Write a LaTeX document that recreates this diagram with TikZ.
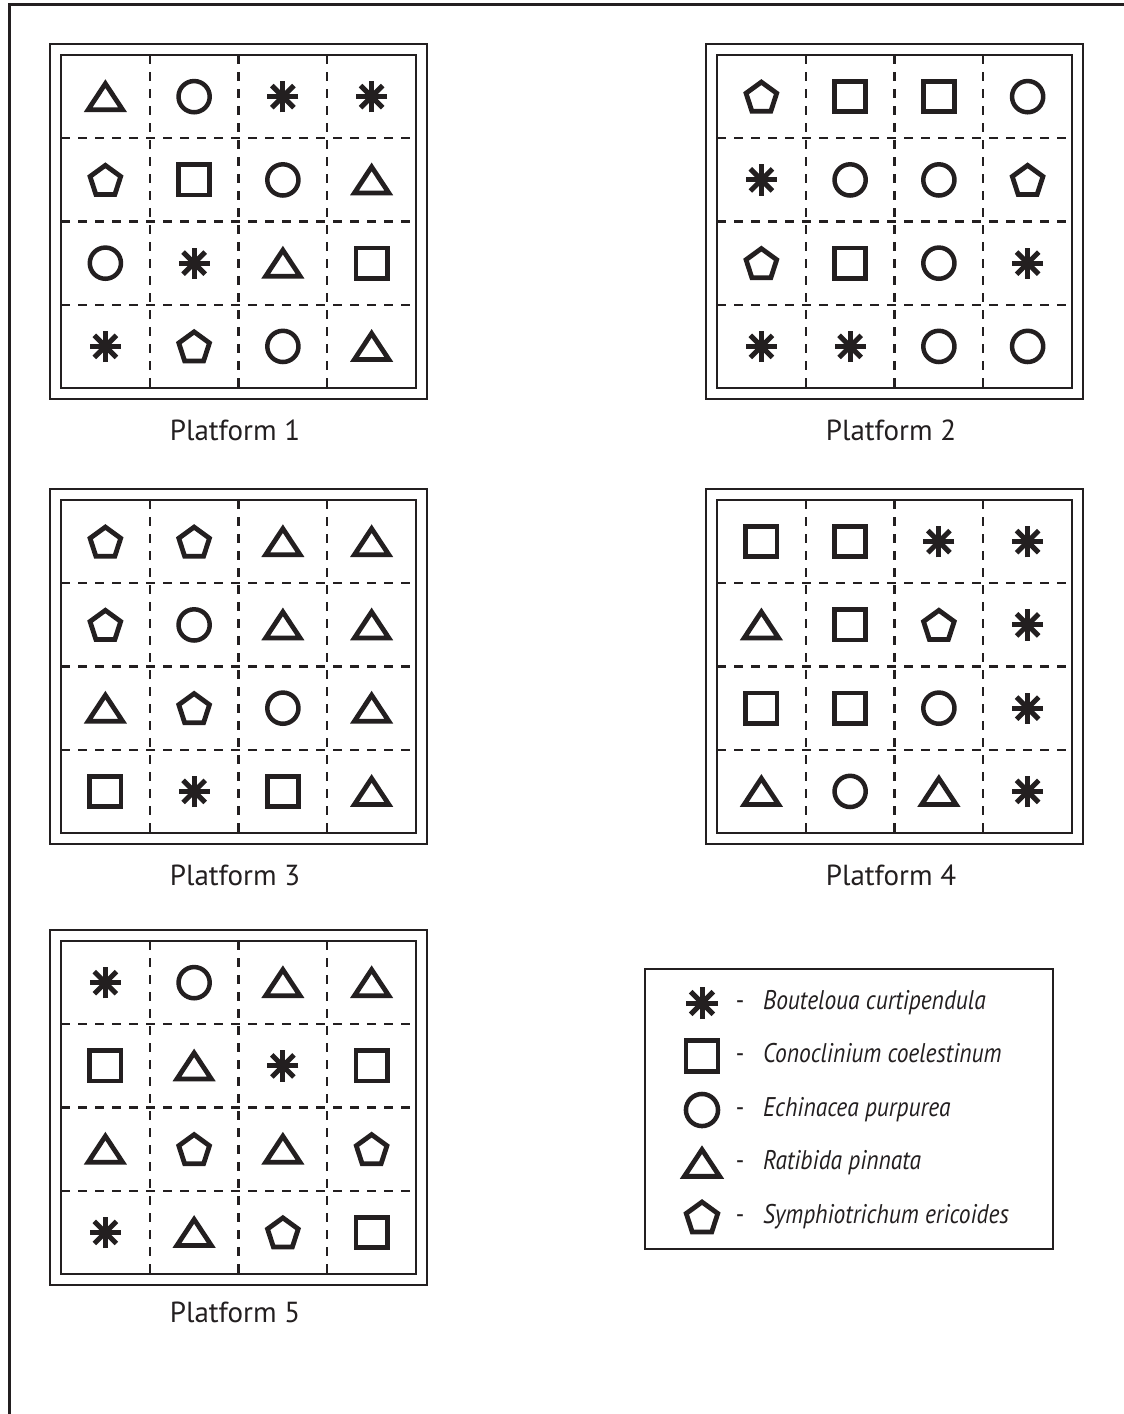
\documentclass[tikz,border=0pt]{standalone}
\usepackage{fontspec}
\setmainfont{PT Sans}
\newfontfamily\legfont{PT Sans}[FakeStretch=0.87]
\definecolor{ink}{HTML}{231F20}
\tikzset{
  frame/.style={draw=ink, line width=2.8pt},
  gridline/.style={draw=ink, line width=2.1pt, dash pattern=on 9pt off 8pt},
  sym/.style={draw=ink, line width=4.8pt, line join=miter},
  platlabel/.style={text=ink, font=\fontsize{29}{31}\selectfont, inner sep=0pt},
  legtext/.style={text=ink, font=\legfont\fontsize{27}{30}\selectfont\itshape, inner sep=0pt, anchor=base west},
  pics/ast/.style={code={
    \foreach \a in {0,45,90,135}{\draw[sym, line width=5pt] (\a:15) -- (\a+180:15);}
  }},
  pics/sq/.style={code={\draw[sym] (-15,-14.5) rectangle (15,14.5);}},
  pics/circ/.style={code={\draw[sym, line width=4.5pt] (0,0) circle[radius=15];}},
  pics/tri/.style={code={\draw[sym] (0,-12.5) -- (16.5,12.5) -- (-16.5,12.5) -- cycle;}},
  pics/pent/.style={code={\draw[sym] (0,1.5) ++(-90:15.5) -- ++(36:18.22) -- ++(108:18.22) -- ++(180:18.22) -- ++(252:18.22) -- cycle;}},
}
\newcommand\drawplatform[5]{%
  \draw[frame] (#1-11,#2-11) rectangle (#1+366,#2+344);
  \draw[frame] (#1,#2) rectangle (#1+355,#2+333);
  \foreach \k in {1,2,3}{
    \draw[gridline] (#1+88.75*\k,#2) -- (#1+88.75*\k,#2+333);
    \draw[gridline] (#1,#2+83.25*\k) -- (#1+355,#2+83.25*\k);
  }
  \foreach \row [count=\r] in {#4}{
    \foreach \s [count=\c] in \row{
      \pic[scale=1.04] at (#1+88.75*\c-44.375, #2+83.25*\r-41.6) {\s};
    }
  }
  \node[platlabel] (plat#3) at (#1+174,#2+#5) {Platform #3};
}
\begin{document}
\begin{tikzpicture}[x=1pt,y=-1pt]
\useasboundingbox (0,0) rectangle (1124,1414);
\fill[white] (0,0) rectangle (1124,1414);
% page frame
\draw[draw=ink, line width=2.6pt] (9.5,1416) -- (9.5,4.5) -- (1126,4.5);

\drawplatform{61}{55}{1}{{tri,circ,ast,ast},{pent,sq,circ,tri},{circ,ast,tri,sq},{ast,pent,circ,tri}}{375}
\drawplatform{717}{55}{2}{{pent,sq,sq,circ},{ast,circ,circ,pent},{pent,sq,circ,ast},{ast,ast,circ,circ}}{375}
\drawplatform{61}{500}{3}{{pent,pent,tri,tri},{pent,circ,tri,tri},{tri,pent,circ,tri},{sq,ast,sq,tri}}{375}
\drawplatform{717}{500}{4}{{sq,sq,ast,ast},{tri,sq,pent,ast},{sq,sq,circ,ast},{tri,circ,tri,ast}}{375}
\drawplatform{61}{941}{5}{{ast,circ,tri,tri},{sq,tri,ast,sq},{tri,pent,tri,pent},{ast,tri,pent,sq}}{371}

% legend
\node[draw=ink, line width=2.6pt, minimum width=408pt, minimum height=280pt, inner sep=0pt] (legend) at (849,1109) {};
\foreach \s/\t/\y [count=\i] in {ast/Bouteloua curtipendula/1003, sq/Conoclinium coelestinum/1056, circ/Echinacea purpurea/1110, tri/Ratibida pinnata/1163, pent/Symphiotrichum ericoides/1217}{
  \pic[scale=1.07] at (702,\y) {\s};
  \node[text=ink, font=\legfont\fontsize{27}{30}\selectfont, inner sep=0pt, anchor=base] (dash\i) at (740,\y+6) {-};
  \node[legtext] (leg\i) at (763,\y+6) {\t};
}
\end{tikzpicture}
\end{document}
